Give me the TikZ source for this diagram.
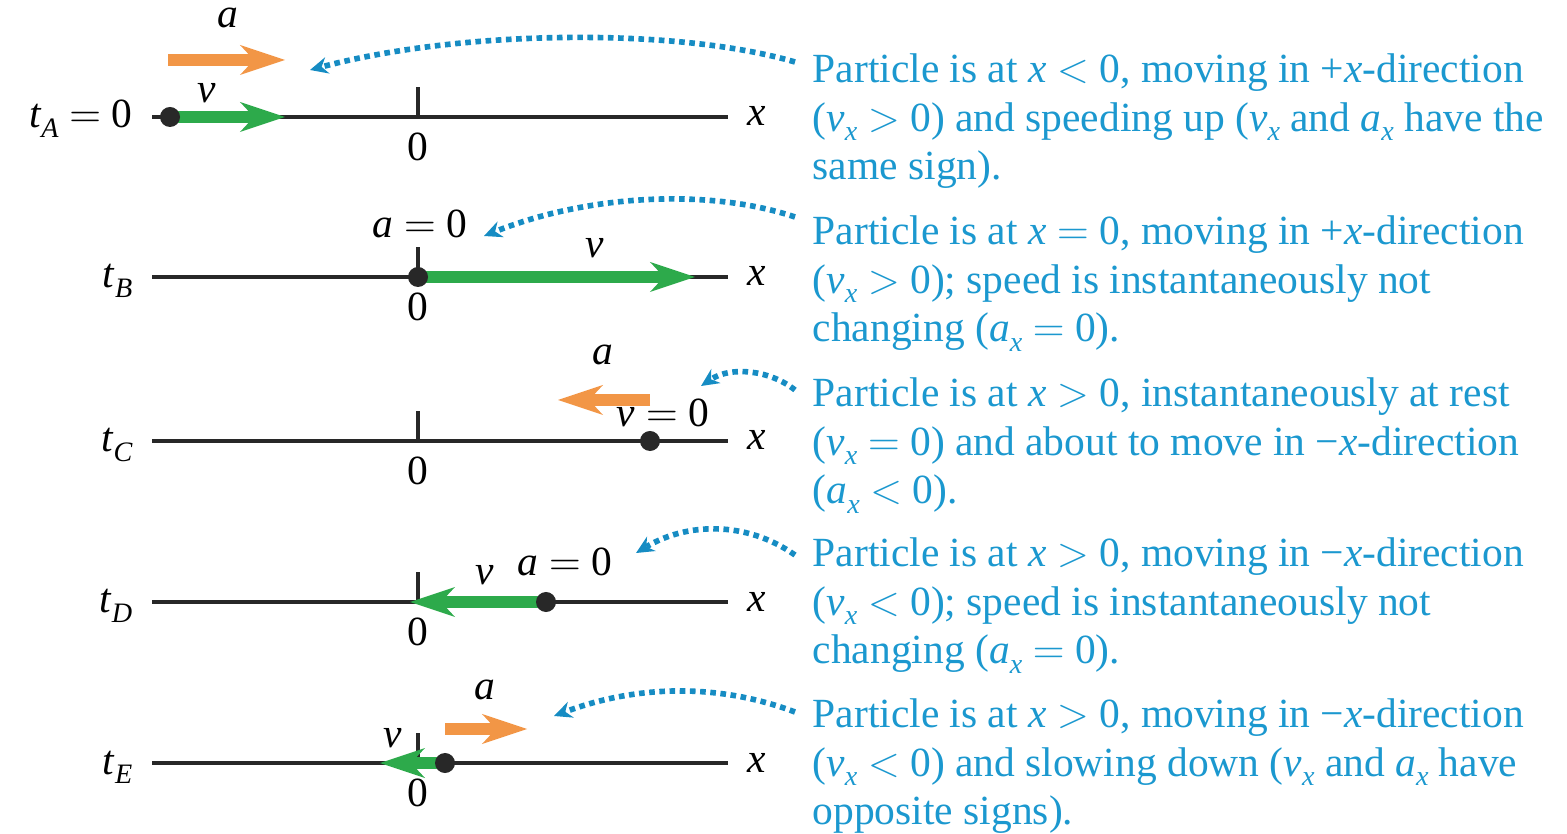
\documentclass[tikz,border=0pt]{standalone}
\usepackage{fontspec}
\setmainfont{Liberation Serif}
\usetikzlibrary{arrows.meta, positioning}

\definecolor{notecol}{RGB}{27,152,207}
\definecolor{dotcol}{RGB}{22,140,195}
\definecolor{velcol}{RGB}{45,170,75}
\definecolor{acccol}{RGB}{242,150,70}
\definecolor{axiscol}{RGB}{40,40,40}

\newcommand\lowsub[1]{\raisebox{-0.5ex}{\footnotesize\itshape #1}}
\newcommand\mv[1]{\textit{#1}}
\newcommand\vx{\mv{v}\lowsub{x}}
\newcommand\ax{\mv{a}\lowsub{x}}

\begin{document}
\begin{tikzpicture}[
            x=0.01cm, y=-0.01cm,
            font=\fontsize{11.8}{13.8}\selectfont,
            axis/.style={draw=axiscol, line width=0.9pt},
            particle/.style={circle, fill=axiscol, minimum size=0.2cm, inner sep=0pt},
            bigtip/.style={-{Stealth[length=0.45cm, width=0.3cm, inset=0.14cm, line width=0pt]}},
            vel/.style={draw=velcol, line width=3.3pt, bigtip},
            acc/.style={draw=acccol, line width=3.3pt, bigtip},
            hint/.style={draw=dotcol, line width=1.6pt, dash pattern=on 1.6pt off 1.3pt, -{Stealth[length=0.18cm, width=0.17cm, inset=0.06cm, line width=0pt]}},
            note/.style={text=notecol, anchor=north west, inner sep=0pt, align=left},
            lbl/.style={inner sep=0pt}
        ]
        \useasboundingbox (0,0) rectangle (1567,834);

        % number lines
        \foreach \y/\r in {117/A, 277/B, 441/C, 602/D, 763/E} {
            \draw[axis] (152,\y) -- (728,\y);
            \draw[axis] (418,\y) -- ++(0,-30);
            \node[lbl] (zero\r) at (418,\y+30) {0};
            \node[lbl, anchor=base] (xlab\r) at (757,\y+9) {\mv{x}};
        }

        \node[lbl, anchor=base east] (tA) at (133,128) {\mv{t}\lowsub{A} $=$ 0};
        \node[lbl, anchor=base east] (tB) at (133,288) {\mv{t}\lowsub{B}};
        \node[lbl, anchor=base east] (tC) at (133,452) {\mv{t}\lowsub{C}};
        \node[lbl, anchor=base east] (tD) at (133,613) {\mv{t}\lowsub{D}};
        \node[lbl, anchor=base east] (tE) at (133,774) {\mv{t}\lowsub{E}};

        % particle positions and arrow tips
        \coordinate (pA) at (170,117);
        \coordinate (pB) at (418,277);
        \coordinate (pC) at (650,441);
        \coordinate (pD) at (546,602);
        \coordinate (pE) at (445,763);
        \coordinate (vA) at (285,117);
        \coordinate (vB) at (695,277);
        \coordinate (vD) at (410,602);
        \coordinate (vE) at (380,763);
        \coordinate (aA0) at (168,60);
        \coordinate (aA) at (285,60);
        \coordinate (aC0) at (650,400);
        \coordinate (aC) at (558,400);
        \coordinate (aE0) at (445,729);
        \coordinate (aE) at (527,729);

        \draw[acc] (aA0) -- (aA);
        \draw[acc] (aC0) -- (aC);
        \draw[acc] (aE0) -- (aE);
        \draw[vel] (pA) -- (vA);
        \draw[vel] (pB) -- (vB);
        \draw[vel] (pD) -- (vD);
        \draw[vel] (pE) -- (vE);

        \node[particle] (dotA) at (pA) {};
        \node[particle] (dotB) at (pB) {};
        \node[particle] (dotC) at (pC) {};
        \node[particle] (dotD) at (pD) {};
        \node[particle] (dotE) at (pE) {};

        \node[lbl] (accA) at (228,18) {\mv{a}};
        \node[lbl] (velA) at (207,93) {\mv{v}};
        \node[lbl] (accB) at (420,224) {\mv{a} $=$ 0};
        \node[lbl] (velB) at (595,248) {\mv{v}};
        \node[lbl] (accC) at (603,355) {\mv{a}};
        \node[lbl] (velC) at (663,413) {\mv{v} $=$ 0};
        \node[lbl] (velD) at (485,575) {\mv{v}};
        \node[lbl] (accD) at (565,562) {\mv{a} $=$ 0};
        \node[lbl] (accE) at (485,690) {\mv{a}};
        \node[lbl] (velE) at (393,738) {\mv{v}};

        % notes
        \node[note] (noteA) at (812,53) {Particle is at \mv{x} $<$ 0, moving in +\mv{x}-direction\\(\vx{} $>$ 0) and speeding up (\vx{} and \ax{} have the\\same sign).};
        \node[note] (noteB) at (812,215) {Particle is at \mv{x} $=$ 0, moving in +\mv{x}-direction\\(\vx{} $>$ 0); speed is instantaneously not\\changing (\ax{} $=$ 0).};
        \node[note] (noteC) at (812,377) {Particle is at \mv{x} $>$ 0, instantaneously at rest\\(\vx{} $=$ 0) and about to move in −\mv{x}-direction\\(\ax{} $<$ 0).};
        \node[note] (noteD) at (812,537) {Particle is at \mv{x} $>$ 0, moving in −\mv{x}-direction\\(\vx{} $<$ 0); speed is instantaneously not\\changing (\ax{} $=$ 0).};
        \node[note] (noteE) at (812,698) {Particle is at \mv{x} $>$ 0, moving in −\mv{x}-direction\\(\vx{} $<$ 0) and slowing down (\vx{} and \ax{} have\\opposite signs).};

        % pointers from notes
        \coordinate (hsA) at (795,62);
        \coordinate (heA) at (310,70);
        \coordinate (hsB) at (795,217);
        \coordinate (heB) at (484,236);
        \coordinate (hsC) at (795,390);
        \coordinate (heC) at (701,386);
        \coordinate (hsD) at (795,555);
        \coordinate (heD) at (636,553);
        \coordinate (hsE) at (795,712);
        \coordinate (heE) at (554,716);
        \draw[hint] (hsA) .. controls +(-120,-35) and +(150,-40) .. (heA);
        \draw[hint] (hsB) .. controls +(-90,-30) and +(100,-40) .. (heB);
        \draw[hint] (hsC) .. controls +(-25,-20) and +(30,-20) .. (heC);
        \draw[hint] (hsD) .. controls +(-50,-35) and +(50,-30) .. (heD);
        \draw[hint] (hsE) .. controls +(-80,-30) and +(80,-30) .. (heE);
\end{tikzpicture}
\end{document}
